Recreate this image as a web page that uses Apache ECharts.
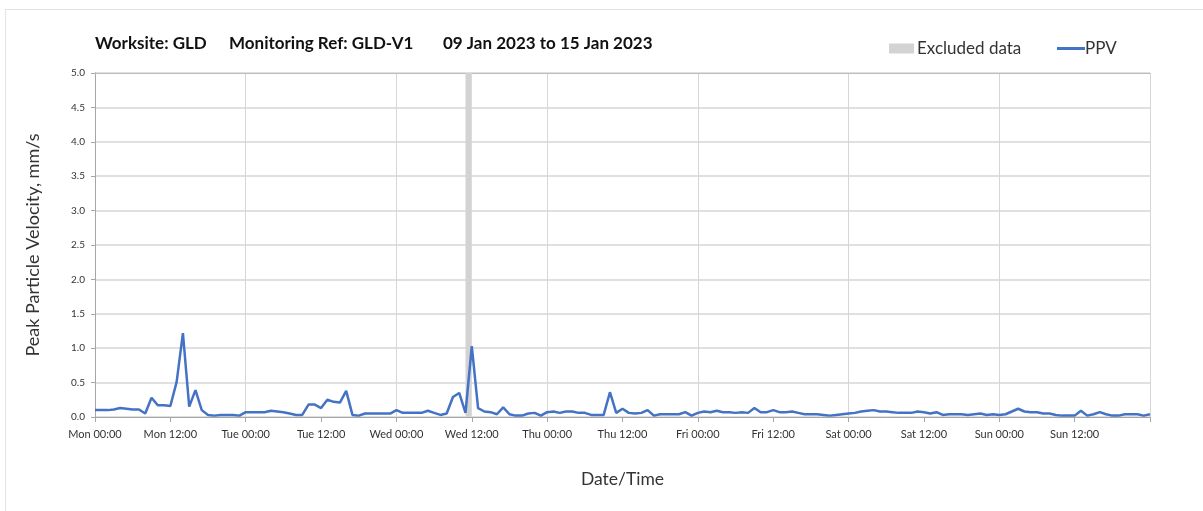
<!DOCTYPE html>
<html>
<head>
<meta charset="utf-8">
<script src="https://cdn.jsdelivr.net/npm/echarts@6/dist/echarts.min.js"></script>
<style>
html,body{margin:0;padding:0;background:#fff;overflow:hidden;}
#frame{position:absolute;left:5px;top:9px;width:1400px;height:700px;border:1px solid #e3e3e3;box-sizing:border-box;}
#chart{position:absolute;left:0;top:0;width:1203px;height:511px;}
</style>
</head>
<body>
<div id="frame"></div>
<div id="chart"></div>
<script>
// Tick labels every 12 hours, starting Mon 09 Jan 2023 00:00
const tickLabels = ['Mon 00:00','Mon 12:00','Tue 00:00','Tue 12:00','Wed 00:00','Wed 12:00','Thu 00:00','Thu 12:00','Fri 00:00','Fri 12:00','Sat 00:00','Sat 12:00','Sun 00:00','Sun 12:00',''];
// Excluded data period, hours since start
const excludedHours = [59, 60];
// PPV (mm/s), hourly readings from Mon 00:00 to next Mon 00:00
const ppvMon = [0.10,0.10,0.10,0.11,0.13,0.12,0.11,0.11,0.05,0.28,0.17,0.17,0.16,0.51,1.22,0.15,0.39,0.10,0.03,0.02,0.03,0.03,0.03,0.02];
const ppvTue = [0.07,0.07,0.07,0.07,0.09,0.08,0.07,0.05,0.03,0.03,0.18,0.18,0.13,0.25,0.22,0.21,0.38,0.03,0.02,0.05,0.05,0.05,0.05,0.05];
const ppvWed = [0.10,0.06,0.06,0.06,0.06,0.09,0.06,0.03,0.05,0.29,0.35,0.06,1.03,0.13,0.08,0.07,0.04,0.14,0.04,0.02,0.02,0.05,0.06,0.02];
const ppvThu = [0.07,0.08,0.06,0.08,0.08,0.06,0.06,0.03,0.03,0.03,0.36,0.06,0.12,0.06,0.05,0.06,0.10,0.02,0.04,0.04,0.04,0.04,0.07,0.02];
const ppvFri = [0.06,0.08,0.07,0.09,0.07,0.07,0.06,0.07,0.06,0.13,0.07,0.07,0.10,0.07,0.07,0.08,0.06,0.04,0.04,0.04,0.03,0.02,0.03,0.04];
const ppvSat = [0.05,0.06,0.08,0.09,0.10,0.08,0.08,0.07,0.06,0.06,0.06,0.08,0.07,0.05,0.07,0.03,0.04,0.04,0.04,0.03,0.04,0.05,0.03,0.04];
const ppvSun = [0.03,0.04,0.08,0.12,0.08,0.07,0.07,0.05,0.05,0.03,0.02,0.02,0.02,0.09,0.02,0.04,0.07,0.04,0.02,0.02,0.04,0.04,0.04,0.02,0.04];

const ppv = [].concat(ppvMon, ppvTue, ppvWed, ppvThu, ppvFri, ppvSat, ppvSun);
const FONT = 'Lato, "Open Sans", sans-serif';
const titleStyle = {fontFamily:FONT, fontSize:17, fontWeight:'bold', color:'#111'};
const chart = echarts.init(document.getElementById('chart'), null, {renderer:'canvas'});
chart.setOption({
  backgroundColor: 'transparent',
  animation: false,
  title: [
    {text:'Worksite: GLD', left:95, top:35, padding:0, textStyle:titleStyle},
    {text:'Monitoring Ref: GLD-V1', left:229, top:35, padding:0, textStyle:titleStyle},
    {text:'09 Jan 2023 to 15 Jan 2023', left:443, top:35, padding:0, textStyle:titleStyle}
  ],
  legend: [
    {
      left: 889, top: 40, padding:0, itemWidth: 25, itemHeight: 10, icon:'rect',
      textStyle: {fontFamily:FONT, fontSize:17, color:'#333', padding:[0,0,0,-2]},
      data: ['Excluded data']
    },
    {
      left: 1057, top: 40, padding:0, itemWidth: 28, itemHeight: 3, icon:'rect',
      textStyle: {fontFamily:FONT, fontSize:17, color:'#333', padding:[0,0,0,-5]},
      data: ['PPV']
    }
  ],
  grid: {left:95, right:53, top:73, bottom:94, containLabel:false},
  xAxis: [
    {
      type:'value', min:0, max:168, interval:12,
      name:'Date/Time', nameLocation:'middle', nameGap:53,
      nameTextStyle:{fontFamily:FONT, fontSize:17.5, color:'#333'},
      axisLine:{show:true, lineStyle:{color:'#a6a6a6', width:1}},
      axisTick:{show:true, length:5, lineStyle:{color:'#a6a6a6'}},
      axisLabel:{fontFamily:FONT, fontSize:11, color:'#333', margin:12, formatter:(v)=>tickLabels[Math.round(v/12)] || ''},
      splitLine:{show:false}
    },
    {
      type:'value', min:0, max:168, interval:24, position:'top',
      axisLine:{show:true, onZero:false, lineStyle:{color:'#bdbdbd', width:1}},
      axisTick:{show:false}, axisLabel:{show:false},
      splitLine:{show:true, lineStyle:{color:'#d6d6d6', width:1}}
    }
  ],
  yAxis: [
    {
      type:'value', min:0, max:5, interval:0.5,
      name:'Peak Particle Velocity, mm/s', nameLocation:'middle', nameGap:53,
      nameTextStyle:{fontFamily:FONT, fontSize:18, color:'#333'},
      axisLine:{show:true, lineStyle:{color:'#a6a6a6'}},
      axisTick:{show:true, length:4, lineStyle:{color:'#a6a6a6'}},
      axisLabel:{fontFamily:FONT, fontSize:10, color:'#333', margin:10, formatter:(v)=>v.toFixed(1)},
      splitLine:{show:true, lineStyle:{color:'#d6d6d6', width:1.5}}
    },
    {
      type:'value', min:0, max:5, position:'right',
      axisLine:{show:true, lineStyle:{color:'#a6a6a6'}},
      axisTick:{show:false}, axisLabel:{show:false}, splitLine:{show:false}
    }
  ],
  series: [
    {
      name:'Excluded data', type:'line', data:[], color:'#d3d3d3', z:1,
      markArea:{silent:true, itemStyle:{color:'#d3d3d3'}, data:[[{xAxis:excludedHours[0]},{xAxis:excludedHours[1]}]]}
    },
    {
      name:'PPV', type:'line', symbol:'none', z:3, color:'#4472c4',
      lineStyle:{width:2.5, color:'#4472c4'},
      data: ppv.map((v,i)=>[i, v])
    }
  ]
});
</script>
</body>
</html>
